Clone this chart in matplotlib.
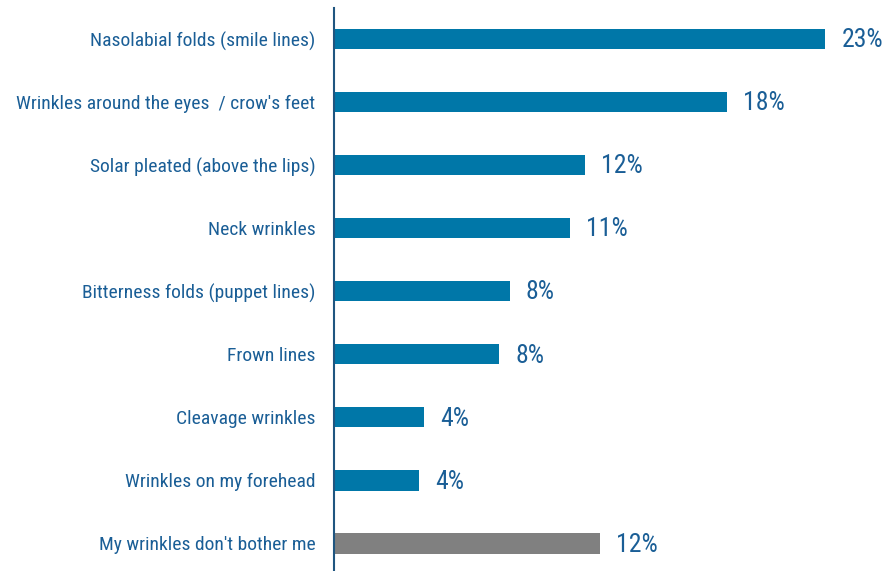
import matplotlib.pyplot as plt

# survey answers, top to bottom
categories = [
    "Nasolabial folds (smile lines)",
    "Wrinkles around the eyes  / crow's feet",
    "Solar pleated (above the lips)",
    "Neck wrinkles",
    "Bitterness folds (puppet lines)",
    "Frown lines",
    "Cleavage wrinkles",
    "Wrinkles on my forehead",
    "My wrinkles don't bother me",
]
shares = [22.9, 18.3, 11.7, 11.0, 8.2, 7.7, 4.2, 4.0, 12.4]
bar_colors = ["#0077a8"] * 8 + ["#808080"]

plt.rcParams['font.family'] = ['Roboto Condensed', 'DejaVu Sans']
text_color = "#1a5e96"

fig = plt.figure(figsize=(8.87, 5.71), dpi=100)
ax = fig.add_axes([333.5 / 887, 0, 1 - 333.5 / 887, 563 / 571])

pos = list(range(len(categories)))
ax.barh(pos, shares, height=0.32, color=bar_colors)

# value labels to the right of each bar
for p, v in zip(pos, shares):
    ax.text(v + 0.75, p + 0.02, "%.0f%%" % v, va='center', ha='left',
            fontsize=18.5, color=text_color)

ax.set_yticks(pos)
ax.set_yticklabels(categories, fontsize=14, color=text_color)
ax.tick_params(axis='y', length=0, pad=13)
ax.set_xticks([])
ax.set_xlim(0, 554 / 21.5)
ax.set_ylim(8.436, -0.49)

for s in ['top', 'right', 'bottom']:
    ax.spines[s].set_visible(False)
ax.spines['left'].set_color("#1f5580")
ax.spines['left'].set_linewidth(1.5)

fig.savefig("out.png", dpi=100)
